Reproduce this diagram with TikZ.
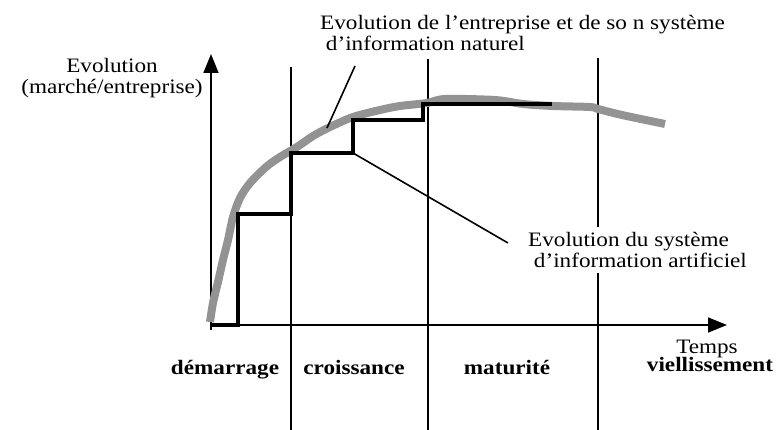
\documentclass[tikz,border=0pt]{standalone}
\usepackage{fontspec}
\setmainfont{Liberation Serif}[FakeStretch=1.13]
\usetikzlibrary{arrows.meta}
\definecolor{GrisCourbe}{HTML}{939393}
\tikzset{
  axe/.style        = {-{Triangle[length=19pt,width=15pt]}, line width=1.6pt},
  phase/.style      = {line width=1.3pt},
  naturel/.style    = {line width=8pt, draw=GrisCourbe, line join=round},
  artificiel/.style = {line width=3.3pt},
  renvoi/.style     = {line width=1.6pt},
  txt/.style        = {font=\fontsize{20.5}{21.5}\selectfont, inner sep=0pt, align=left},
  etape/.style      = {font=\fontsize{20.5}{21.5}\selectfont\bfseries, inner sep=0pt},
}

\begin{document}
\begin{tikzpicture}[x=1pt,y=-1pt]
  \useasboundingbox (0,0) rectangle (780,430);
  % phases
  \draw[phase] (291,67) -- (291,430);
  \draw[phase] (428,59) -- (428,430);
  \draw[phase] (598,58) -- (598,430);
  % axes
  \coordinate (O) at (211,325);
  \coordinate (Ybas) at (211,330);
  \coordinate (Yhaut) at (211,54);
  \coordinate (Xfin) at (727,325);
  \draw[axe] (Ybas) -- (Yhaut);
  \draw[axe] (O) -- (Xfin);
  % systeme naturel
  \draw[naturel] plot[smooth, tension=0.5] coordinates {(210,322) (213,303) (218,282) (223,260)
    (228,240) (233,217) (240,198) (250,183) (266,167) (280,157) (297,147) (313,136)
    (330,127) (353,117) (380,110) (400,106) (427,103) (445,99) (495,100) (523,104)
    (553,106) (590,107) (598,109) (622,115) (665,124)};
  % systeme artificiel
  \draw[artificiel] (O) -- (238,325) -- (238,214) -- (291,214) -- (291,153)
    -- (353,153) coordinate (coin) -- (353,120) -- (423,120) -- (423,104) -- (552,104);
  % renvois
  \coordinate (rNhaut) at (355,66);
  \coordinate (rNbas) at (327,128);
  \coordinate (rAbas) at (508,243);
  \draw[renvoi] (rNhaut) -- (rNbas);
  \draw[renvoi] (coin) -- (rAbas);
  % textes (base = derniere ligne)
  \node[txt, anchor=base west] (lblNaturel) at (320,51)
    {Evolution de l'entreprise et de so n système\\\ d'information naturel};
  \node[txt, align=center, anchor=base] (lblAxeY) at (112,94)
    {Evolution\\(marché/entreprise)};
  \node[txt, anchor=base west, fill=white, inner xsep=2pt, inner ysep=5pt] (lblArtificiel) at (526,268)
    {Evolution du système\\\ d'information artificiel};
  \node[txt, anchor=base] (lblTemps) at (707,354) {Temps};
  \node[etape, anchor=base] (demarrage) at (225,375) {démarrage};
  \node[etape, anchor=base] (croissance) at (354,375) {croissance};
  \node[etape, anchor=base] (maturite) at (507,375) {maturité};
  \node[etape, anchor=base] (viellissement) at (710,372) {viellissement};
\end{tikzpicture}
\end{document}
